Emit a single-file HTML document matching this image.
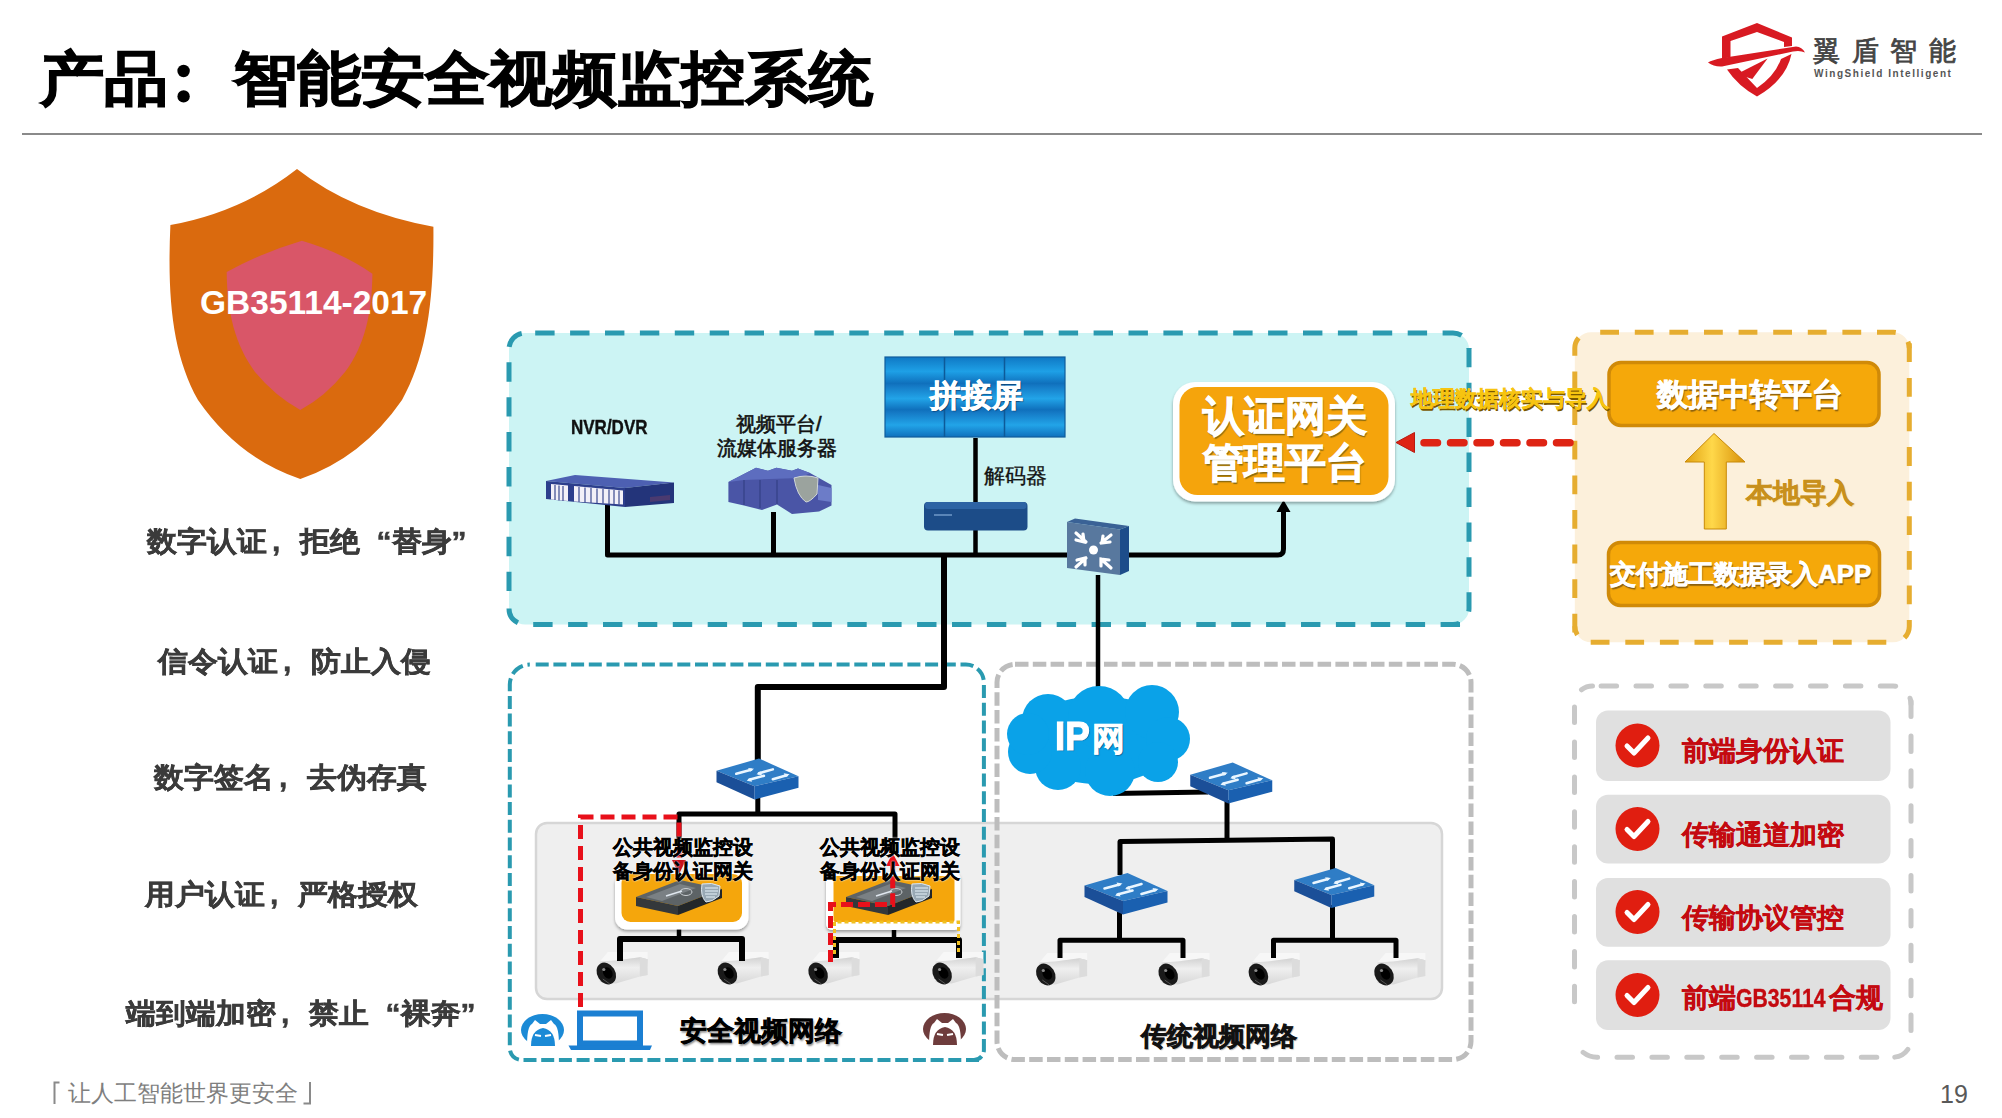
<!DOCTYPE html>
<html><head><meta charset="utf-8">
<style>
html,body{margin:0;padding:0;background:#fff;}
body{width:2002px;height:1118px;position:relative;overflow:hidden;font-family:"Liberation Sans",sans-serif;}
.t{position:absolute;line-height:1;white-space:nowrap;}
.bl{position:absolute;line-height:1;white-space:nowrap;font-size:30px;font-weight:bold;color:#3b3b3b;-webkit-text-stroke:0.5px #3b3b3b;transform:scaleY(0.94);transform-origin:0 0;}
.cm{display:inline-block;width:32.5px;padding-left:5px;box-sizing:border-box;}
.oq{display:inline-block;width:32px;text-align:right;}
.cq{display:inline-block;width:20px;text-align:left;}
#svg{position:absolute;left:0;top:0;}
</style></head><body>
<svg id="svg" width="2002" height="1118" viewBox="0 0 2002 1118">
<defs>
<linearGradient id="wallg" x1="0" y1="0" x2="0" y2="1">
<stop offset="0" stop-color="#0f78c4"/><stop offset="0.18" stop-color="#1ea0e6"/><stop offset="0.33" stop-color="#0f70bc"/>
<stop offset="0.36" stop-color="#1478c4"/><stop offset="0.52" stop-color="#22a4e8"/><stop offset="0.66" stop-color="#0f70bc"/>
<stop offset="0.69" stop-color="#1478c4"/><stop offset="0.85" stop-color="#22a4e8"/><stop offset="1" stop-color="#0f70bc"/>
</linearGradient>
<linearGradient id="arrowg" x1="0" y1="0" x2="1" y2="0">
<stop offset="0" stop-color="#e0a010"/><stop offset="0.45" stop-color="#ffd84a"/><stop offset="1" stop-color="#d89008"/>
</linearGradient>
<linearGradient id="camg" x1="0" y1="0" x2="0" y2="1">
<stop offset="0" stop-color="#d2d2d2"/><stop offset="0.4" stop-color="#efefef"/><stop offset="1" stop-color="#d8d8d8"/>
</linearGradient>
<filter id="sh" x="-20%" y="-20%" width="140%" height="150%"><feDropShadow dx="0" dy="2" stdDeviation="1.5" flood-color="#000" flood-opacity="0.35"/></filter>
<symbol id="sw" viewBox="0 0 83 41.5" overflow="visible">
<polygon points="0,12.5 43,0 83,18 38.5,28" fill="#2f7dc6"/>
<polygon points="0,12.5 38.5,28 38.5,41.5 0,24" fill="#1b4f98"/>
<polygon points="38.5,28 83,18 83,29.5 38.5,41.5" fill="#1a60b0"/>
<g stroke="#eaf6ff" stroke-width="2.6" stroke-linecap="round" fill="none">
<path d="M20,15.5 L35,11.5 M43,15 L57,11 M33,21.5 L48,17.5 M57,21 L71,17"/>
</g>
<g fill="#eaf6ff">
<polygon points="38,10.5 32,9.5 34,13.5"/><polygon points="40.5,16 46,17 44.5,13"/>
<polygon points="30.5,22.5 36,23.5 34.5,19.5"/><polygon points="74,16 68,15 70,19"/>
</g>
</symbol>
<symbol id="cam" viewBox="0 0 53 32" overflow="visible">
<polygon points="13,0 52.8,0 52.8,7.2 45,5.2 21,8.5 5,9.5" fill="#f7f7f7"/>
<polygon points="5,9.5 21,8.5 45,5.2 52.8,7.2 52.8,23 45,24.6 21,31.4 5,30" fill="url(#camg)"/>
<polygon points="45,5.2 52.8,7.2 52.8,23 45,24.6" fill="#dcdcdc"/>
<ellipse cx="11.5" cy="21.5" rx="9" ry="11.5" transform="rotate(-32 11.5 21.5)" fill="#1a1a1a"/>
<ellipse cx="13" cy="21" rx="4.5" ry="6" transform="rotate(-28 13 21)" fill="#000"/>
<circle cx="9" cy="17.5" r="1.6" fill="#8a8a8a"/>
<path d="M8,27 L15,32" stroke="#555" stroke-width="1"/>
</symbol>
<symbol id="gwdev" viewBox="0 0 86 36" overflow="visible">
<polygon points="0,17 44,0 86,9 42,26" fill="#5d6366"/>
<polygon points="0,17 42,26 42,35 0,26" fill="#34383b"/>
<polygon points="42,26 86,9 86,18 42,35" fill="#23272a"/>
<polygon points="10,17 44,4 60,8 26,21" fill="#7a8084"/>
<ellipse cx="50" cy="12" rx="6" ry="3.5" fill="none" stroke="#c8ccd0" stroke-width="1"/>
<path d="M30,16 L46,11" stroke="#dfe6ee" stroke-width="1.5"/>
<path d="M66,4 Q76,2 84,6 L83,16 Q76,22 70,22 Q64,16 66,4 Z" fill="#98a8b4" stroke="#dfe8ef" stroke-width="1"/>
<path d="M69,8 H82 M69,11 H82 M69,14 H81 M70,17 H79" stroke="#e6f2fa" stroke-width="1"/>
</symbol>
</defs>
<!-- header line -->
<path d="M59.5,1082.5 H54.5 V1104 M303.5,1103.5 H310 V1082" stroke="#8a8a8a" stroke-width="2" fill="none"/>
<circle cx="183.6" cy="71" r="6.2" fill="#000"/><circle cx="183.6" cy="96.4" r="6.2" fill="#000"/>
<rect x="22" y="133" width="1960" height="2" fill="#8a8a8a"/>
<!-- left shield -->
<path d="M297,169 Q352,212 433.4,226.7 C434,300 427,355 402,400 Q362,458 300.3,479 Q238,458 198,400 C173,355 167,300 170.4,225 Q242,212 297,169 Z" fill="#da6a0e"/>
<path d="M301.9,240.8 Q343,253 372.4,273.7 C372,312 365,345 345,372 Q326,396 300.3,410 Q275,396 255,372 C235,345 227,312 226.7,272 Q261,253 301.9,240.8 Z" fill="#d95668"/>
<!-- logo -->
<g fill="#d81a22">
<path d="M1722,59 V36.5 L1757,23 L1792,37.5 V46 L1784,47 V42 L1757,32 L1730.5,41 V57 Z"/>
<path d="M1708,62.5 Q1712,60 1722,58 L1796,46.5 Q1802,47 1805,52.5 Q1800,50 1793,51.5 L1722,66.5 Q1714,67 1708,62.5 Z"/>
<path d="M1727,69.5 L1738,68 L1757,88 Q1775,76 1781,59 L1791.5,54 Q1786,80 1757,96.5 Q1738,86 1727,69.5 Z"/>
<path d="M1739,73 L1767.6,58.5 L1752.3,79 L1744.5,76.5 Z"/>
</g>
<!-- BOXES -->
<g id="boxes">
<!-- top cyan box -->
<rect x="509" y="333" width="960" height="291.5" rx="16" fill="#ccf4f4"/>
<g fill="none" stroke="#2a9ab0" stroke-width="5" stroke-dasharray="19.4 15.5">
<path d="M535.2,333 H1453 A16,16 0 0 1 1469,349"/>
<path d="M1469,347.9 V608.5 A16,16 0 0 1 1453,624.5"/>
<path d="M1460,624.5 H525 A16,16 0 0 1 509,608.5"/>
<path d="M509,591.1 V349 A16,16 0 0 1 525,333"/>
</g>
<!-- lower gray bg -->
<rect x="536" y="823" width="906" height="176" rx="11" fill="#efefef" stroke="#d6d6d6" stroke-width="2.5"/>
<!-- lower-left cyan dashed -->
<g fill="none" stroke="#2a9ab0" stroke-width="4" stroke-dasharray="13 4.7">
<path d="M535.7,664.6 H965.9 A18,18 0 0 1 983.9,682.6"/>
<path d="M983.9,685.1 V1050 A10,10 0 0 1 973.9,1060"/>
<path d="M979,1060 H522 A12,12 0 0 1 509.8,1048"/>
<path d="M509.8,1045.2 V684.6 A20,20 0 0 1 529.8,664.6"/>
</g>
<!-- lower gray dashed -->
<rect x="997" y="664.3" width="474" height="395.3" rx="18" fill="none" stroke="#bdbdbd" stroke-width="5" stroke-dasharray="13.5 4.3"/>
<!-- orange dashed -->
<rect x="1574.8" y="332.3" width="334.5" height="309.9" rx="16" fill="#fcf0db"/>
<g fill="none" stroke="#e6ad30" stroke-width="5" stroke-dasharray="18.8 15.8">
<path d="M1600.2,332.3 H1893.3 A16,16 0 0 1 1909.3,348.3"/>
<path d="M1909.3,343.3 V626.2 A16,16 0 0 1 1893.3,642.2"/>
<path d="M1886.3,642.2 H1590.8 A16,16 0 0 1 1574.8,626.2"/>
<path d="M1574.8,632.6 V348.3 A16,16 0 0 1 1590.8,332.3"/>
</g>
<!-- checklist gray dashed -->
<g fill="none" stroke="#c8c8c8" stroke-width="5" stroke-linecap="round" stroke-dasharray="15.5 19.4">
<path d="M1601.1,686 H1893 A18,18 0 0 1 1911,704"/>
<path d="M1911,701 V1039.2 A18,18 0 0 1 1893,1057.2"/>
<path d="M1876.8,1057.2 H1597 A22.5,22.5 0 0 1 1575.2,1040.1"/>
<path d="M1574.5,1001.8 V704 A18,18 0 0 1 1592.5,686"/>
</g>
<!-- checklist items -->
<rect x="1596" y="710.5" width="294.5" height="70.5" rx="12" fill="#e0e0e0"/>
<rect x="1596" y="794.7" width="294.5" height="68.7" rx="12" fill="#e0e0e0"/>
<rect x="1596" y="878" width="294.5" height="68.7" rx="12" fill="#e0e0e0"/>
<rect x="1596" y="960.3" width="294.5" height="69.7" rx="12" fill="#e0e0e0"/>
</g>
<g id="lines" fill="none" stroke="#000" stroke-linejoin="round">
<!-- top network -->
<path d="M607.5,505 V555 H1070" stroke-width="5"/>
<path d="M773.5,512 V555" stroke-width="5"/>
<path d="M975.5,438 V504 M975.5,528 V555" stroke-width="4.5"/>
<path d="M1126,555 H1278 Q1283.5,555 1283.5,549 V510" stroke-width="5"/>
<path d="M1276.5,512 L1283.5,500 L1290.5,512 Z" fill="#000" stroke="none"/>
<path d="M944,555 V687 H757.8 V765" stroke-width="6"/>
<path d="M1098,575 V692" stroke-width="4.5"/>
<!-- lower left -->
<path d="M757.8,795 V814" stroke-width="5"/>
<path d="M679,840 V814 H895 V840" stroke-width="5"/>
<path d="M679,925 V939" stroke-width="4.5"/>

<path d="M894,925 V940" stroke-width="4.5"/>

<!-- traditional -->
<path d="M1113,793.5 L1208,792" stroke-width="5"/>
<path d="M1227,800 V840" stroke-width="5"/>
<path d="M1120,875 V841.5 L1332.5,839 V870" stroke-width="5"/>
<path d="M1119.5,912 V940.3" stroke-width="5"/>
<path d="M1332.5,905 V940.3" stroke-width="5"/>
</g>
<g id="icons">
<!-- NVR -->
<polygon points="546,481 575,475 674,482.5 625,488" fill="#4d60b2"/>
<polygon points="546,481 625,488 625,507 546,499" fill="#2c3e8c"/>
<polygon points="625,488 674,482.5 674,503 625,507" fill="#23347a"/>
<polygon points="551,484 568,485.5 568,501 551,499.5" fill="#f2f0f8"/>
<polygon points="574,486 623,490.5 623,504.5 574,501.5" fill="#f2f0f8"/>
<g stroke="#3a4a90" stroke-width="1.2"><path d="M555,485 V500 M559,485.5 V500.5 M563,486 V501 M579,487 V502 M585,487.5 V502.5 M591,488 V503 M597,488.5 V503 M603,489 V503.5 M609,489.5 V504 M614,490 V504 M619,490.5 V504.5"/></g>
<polygon points="650,497 670,495 670,500 650,502" fill="#4a3a70"/>
<!-- server -->
<polygon points="728.4,482 756,467.8 768,470.8 776.4,467.8 792,470.8 798,468.4 810,473 831.5,485 831.5,505.6 819,511.6 792,514 777,504.4 762,510 744,505.6 728.4,502" fill="#4a55a6"/>
<polygon points="728.4,482 756,467.8 768,470.8 776.4,467.8 792,470.8 798,468.4 810,473 800,478 744,480" fill="#5d6dbf"/>
<path d="M744,480 V505 M760,480 V508 M777,480 V504" stroke="#39448c" stroke-width="1.5"/>
<path d="M794,478 Q806,474 818,478 L817,494 Q810,502 806,502 Q797,496 794,478 Z" fill="#9ba39e" stroke="#d0d6d8" stroke-width="1"/>
<polygon points="818,485 831.5,488 831.5,502 818,500" fill="#6c7cc8"/>
<!-- video wall -->
<rect x="885" y="357" width="180" height="80" fill="url(#wallg)"/>
<rect x="885" y="357" width="180" height="80" fill="none" stroke="#0f5d9c" stroke-width="1.2"/>
<path d="M944.5,357 V437 M1004.5,357 V437" stroke="#0d5a98" stroke-width="1.5"/>
<!-- decoder -->
<rect x="924" y="502" width="103.5" height="28.5" rx="4" fill="#1c4c88"/>
<rect x="925" y="502" width="101.5" height="7" rx="3" fill="#2d63a4"/>
<path d="M934,515 H952" stroke="#6f98c8" stroke-width="1.5"/>
<!-- core switch -->
<polygon points="1067,522 1120,529.5 1120,575 1067,568" fill="#58789e"/>
<polygon points="1067,522 1075,518.5 1129,526 1120,529.5" fill="#3a6296"/>
<polygon points="1120,529.5 1129,526 1129,571 1120,575" fill="#1d4d8a"/>
<g fill="#ffffff">
<circle cx="1093.5" cy="550" r="4.5"/>
</g>
<g stroke="#fff" stroke-width="3.2" fill="none" stroke-linecap="round">
<path d="M1076,533 L1086,542 M1076,540 L1084,542 L1083,534"/>
<path d="M1111,535 L1101,543 M1103,536 L1102,543 L1110,542"/>
<path d="M1076,567 L1086,558 M1077,560 L1085,558 L1085,565"/>
<path d="M1111,568 L1101,559 M1101,566 L1101,559 L1109,560"/>
</g>
<!-- gateway platform -->
<rect x="1173" y="382" width="222" height="119.5" rx="22" fill="#fff" filter="url(#sh)"/>
<rect x="1179.5" y="387" width="209" height="108" rx="18" fill="#f5a40c"/>
<!-- red dashed arrow right -->
<path d="M1570,442.8 H1418" stroke="#de2414" stroke-width="7.5" stroke-linecap="round" stroke-dasharray="13.5 13" fill="none"/>
<polygon points="1396,442.5 1414.5,432.5 1414.5,452.5" fill="#de2414" stroke="#b81a10" stroke-width="1" stroke-linejoin="round"/>
<!-- data platform boxes -->
<rect x="1609" y="362.5" width="270" height="63" rx="12" fill="#f5a80a" stroke="#d08a08" stroke-width="3.5"/>
<rect x="1608.5" y="542.5" width="271" height="63" rx="12" fill="#f5a80a" stroke="#d08a08" stroke-width="3.5"/>
<!-- yellow arrow -->
<polygon points="1714,433.5 1745,462 1726.3,462 1726.3,529 1704.3,529 1704.3,462 1685,462" fill="url(#arrowg)" stroke="#c88a08" stroke-width="1"/>
<!-- check circles -->
<g>
<circle cx="1637.5" cy="745.5" r="22" fill="#e01e10"/>
<circle cx="1637.5" cy="829" r="22" fill="#e01e10"/>
<circle cx="1637.5" cy="912" r="22" fill="#e01e10"/>
<circle cx="1637.5" cy="995" r="22" fill="#e01e10"/>
</g>
<g stroke="#fff" stroke-width="5" fill="none" stroke-linecap="round" stroke-linejoin="round">
<path d="M1627,746 L1634,753 L1648,738"/>
<path d="M1627,829.5 L1634,836.5 L1648,821.5"/>
<path d="M1627,912.5 L1634,919.5 L1648,904.5"/>
<path d="M1627,995.5 L1634,1002.5 L1648,987.5"/>
</g>
<!-- switches -->
<use href="#sw" x="716" y="758.5" width="83" height="41"/>
<use href="#sw" x="1190" y="762.5" width="82.5" height="41"/>
<use href="#sw" x="1084.5" y="873" width="83" height="41.5"/>
<use href="#sw" x="1293" y="868" width="82.5" height="40"/>
<!-- gateways lower-left -->
<rect x="615" y="872" width="133.5" height="57.5" rx="12" fill="#fff" filter="url(#sh)"/>
<rect x="621.5" y="874" width="120.5" height="48" rx="9" fill="#f5a60c"/>
<use href="#gwdev" x="636" y="880" width="86" height="36"/>
<rect x="826" y="872" width="134.5" height="58" rx="6" fill="#fff" filter="url(#sh)"/>
<rect x="833.5" y="876" width="121" height="46" rx="2" fill="#f5a60c"/>
<use href="#gwdev" x="846" y="880" width="86" height="36"/>
<!-- cameras -->
<use href="#cam" x="594.8" y="952" width="53" height="32"/>
<use href="#cam" x="715.9" y="952" width="53" height="32"/>
<use href="#cam" x="806.6" y="952" width="53" height="32"/>
<use href="#cam" x="930.6" y="952" width="53" height="32"/>
<use href="#cam" x="1034.3" y="953" width="53" height="32"/>
<use href="#cam" x="1156.7" y="953" width="53" height="32"/>
<use href="#cam" x="1246.9" y="953" width="53" height="32"/>
<use href="#cam" x="1372.5" y="953" width="53" height="32"/>
<g fill="none" stroke="#000" stroke-linejoin="round">
<path d="M620,961 V939 H742 V961" stroke-width="6"/>
<path d="M836,958 V940 H959 V958" stroke-width="6"/>
<path d="M1060,958 V940.3 H1183 V958" stroke-width="5"/>
<path d="M1273.5,958 V940.3 H1396 V958" stroke-width="5"/>
</g>
<!-- cloud -->
<g fill="#0aa2e8">
<ellipse cx="1099" cy="740" rx="76" ry="44"/>
<circle cx="1048" cy="720" r="26"/>
<circle cx="1099" cy="717" r="31"/>
<circle cx="1152" cy="712" r="27"/>
<circle cx="1168" cy="739" r="22"/>
<circle cx="1158" cy="762" r="20"/>
<circle cx="1110" cy="771" r="25"/>
<circle cx="1058" cy="767" r="23"/>
<circle cx="1030" cy="752" r="22"/>
<circle cx="1028" cy="734" r="21"/>
</g>
<!-- red dashed path lower-left -->
<path d="M580.5,1007 V817 H679 V862" stroke="#e8101a" stroke-width="5" stroke-dasharray="14 7" fill="none"/>
<polygon points="672,860 686,860 679,874" fill="#c8101a"/>
<!-- red path gateway 2 -->
<path d="M830.5,962 V904.5 H892.7 V864" stroke="#e8101a" stroke-width="5" stroke-dasharray="12 5" fill="none"/>
<polygon points="886,866 899.5,866 892.7,853" fill="#e8101a"/>
<path d="M834.5,954 V922 H958.5 V954" stroke="#f0c020" stroke-width="3" stroke-dasharray="4 3" fill="none"/>
<!-- laptop -->
<rect x="580" y="1013.5" width="60" height="30" fill="none" stroke="#1b7fd2" stroke-width="6"/>
<path d="M568.5,1045.5 H652 L650,1050 H571 Z" fill="#1b7fd2"/>
<!-- hacker blue -->
<ellipse cx="542.5" cy="1030" rx="21.5" ry="16" fill="#1b8ad6"/>
<path d="M527,1046 Q527,1026 532,1024 L535,1020 L540,1024 H546 L551,1020 L554,1024 Q559,1026 559,1046 Z" fill="#fff"/>
<path d="M531,1046 Q531,1030 543,1028 Q555,1030 555,1046 Z" fill="#1b8ad6"/>
<path d="M535,1035 L541,1036 M545,1036 L551,1035" stroke="#fff" stroke-width="2"/>
<!-- hacker dark -->
<ellipse cx="944.5" cy="1029" rx="21.5" ry="16" fill="#6e3c3c"/>
<path d="M929,1045 Q929,1025 934,1023 L937,1019 L942,1023 H948 L953,1019 L956,1023 Q961,1025 961,1045 Z" fill="#fff"/>
<path d="M933,1045 Q933,1029 945,1027 Q957,1029 957,1045 Z" fill="#6e3c3c"/>
<path d="M937,1034 L943,1035 M947,1035 L953,1034" stroke="#fff" stroke-width="2"/>
</g>
</svg>


<!-- DIAGRAM TEXTS -->
<div class="t" style="left:571px;top:417px;font-size:20px;font-weight:bold;color:#111;-webkit-text-stroke:0.4px #111;transform:scaleX(0.85);transform-origin:0 0;">NVR/DVR</div>
<div class="t" style="left:736px;top:414px;font-size:20px;color:#111;-webkit-text-stroke:0.6px #111;">视频平台/</div>
<div class="t" style="left:717px;top:439px;font-size:19.5px;color:#111;-webkit-text-stroke:0.6px #111;">流媒体服务器</div>
<div class="t" style="left:930px;top:380px;font-size:31px;font-weight:bold;color:#fff;-webkit-text-stroke:0.7px #fff;text-shadow:1px 1px 1px #0b3f70;">拼接屏</div>
<div class="t" style="left:984px;top:465px;font-size:21px;color:#111;-webkit-text-stroke:0.3px #111;">解码器</div>
<div class="t" style="left:1203px;top:393px;font-size:41px;font-weight:bold;color:#fff;-webkit-text-stroke:1px #fff;text-shadow:1px 1.5px 1px #8a6a10;line-height:47px;">认证网关<br>管理平台</div>
<div class="t" style="left:1411px;top:389px;font-size:21.5px;font-weight:bold;color:#f7c410;-webkit-text-stroke:0.3px #f7c410;text-shadow:1px 1.5px 0 #7a5800;">地理数据核实与导入</div>
<div class="t" style="left:1657px;top:379px;font-size:31px;font-weight:bold;color:#fff;-webkit-text-stroke:0.7px #fff;text-shadow:1px 1.5px 1px #8a6010;">数据中转平台</div>
<div class="t" style="left:1746px;top:480px;font-size:26.5px;font-weight:bold;color:#c8901c;-webkit-text-stroke:0.5px #c8901c;text-shadow:1px 1px 1px #f8e0a0;">本地导入</div>
<div class="t" style="left:1610px;top:561px;font-size:26px;font-weight:bold;color:#fff;-webkit-text-stroke:0.6px #fff;text-shadow:1px 1.5px 1px #8a6010;">交付施工数据录入APP</div>
<div class="t" style="left:613px;top:835px;font-size:20px;font-weight:bold;color:#000;line-height:24px;-webkit-text-stroke:0.5px #000;text-shadow:0 0 2px #fff,0 0 2px #fff;">公共视频监控设<br>备身份认证网关</div>
<div class="t" style="left:820px;top:835px;font-size:20px;font-weight:bold;color:#000;line-height:24px;-webkit-text-stroke:0.5px #000;text-shadow:0 0 2px #fff,0 0 2px #fff;">公共视频监控设<br>备身份认证网关</div>
<div class="t" style="left:1055px;top:720px;font-size:33px;font-weight:bold;color:#fff;-webkit-text-stroke:0.6px #fff;text-shadow:1px 1px 1px #0a5a90;"><span style="display:inline-block;width:37px;"><span style="display:inline-block;font-size:41px;transform:scaleX(0.9);-webkit-text-stroke:1.2px #fff;transform-origin:0 0;margin-top:-4px;">IP</span></span>网</div>
<div class="t" style="left:680px;top:1018px;font-size:26.5px;font-weight:bold;color:#000;-webkit-text-stroke:0.6px #000;text-shadow:1px 2px 2px #888;">安全视频网络</div>
<div class="t" style="left:1141px;top:1023px;font-size:26px;font-weight:bold;color:#111;-webkit-text-stroke:0.6px #111;text-shadow:1px 1px 1px #aaa;">传统视频网络</div>
<div class="t" style="left:1682px;top:738px;font-size:26.5px;font-weight:bold;color:#c40a10;-webkit-text-stroke:0.4px #c40a10;">前端身份认证</div>
<div class="t" style="left:1682px;top:822px;font-size:26.5px;font-weight:bold;color:#c40a10;-webkit-text-stroke:0.4px #c40a10;">传输通道加密</div>
<div class="t" style="left:1682px;top:905px;font-size:26.5px;font-weight:bold;color:#c40a10;-webkit-text-stroke:0.4px #c40a10;">传输协议管控</div>
<div class="t" style="left:1682px;top:985px;font-size:26.5px;font-weight:bold;color:#c40a10;-webkit-text-stroke:0.4px #c40a10;">前端<span style="display:inline-block;width:93px;"><span style="display:inline-block;transform:scaleX(0.8);transform-origin:0 0;">GB35114</span></span>合规</div>

<!-- TEXTS -->
<div class="t" style="left:200px;top:285.5px;font-size:33.5px;font-weight:bold;color:#fff;">GB35114-2017</div>
<div class="t" style="left:1813px;top:38px;font-size:27px;color:#444;letter-spacing:11.5px;-webkit-text-stroke:0.8px #444;">翼盾智能</div>
<div class="t" style="left:1814px;top:69px;font-size:10px;font-weight:bold;color:#555;letter-spacing:1.55px;">WingShield Intelligent</div>

<div class="t" style="left:40px;top:49px;font-size:64px;font-weight:bold;color:#000;-webkit-text-stroke:1.2px #000;transform:scaleY(0.92);transform-origin:0 0;">产品</div>
<div class="t" style="left:233px;top:49px;font-size:64px;font-weight:bold;color:#000;-webkit-text-stroke:1.2px #000;transform:scaleY(0.92);transform-origin:0 0;">智能安全视频监控系统</div>

<div class="bl" style="left:147px;top:527px;">数字认证<span class="cm">,</span>拒绝<span class="oq">“</span>替身<span class="cq">”</span></div>
<div class="bl" style="left:158px;top:647px;">信令认证<span class="cm">,</span>防止入侵</div>
<div class="bl" style="left:154px;top:763px;">数字签名<span class="cm">,</span>去伪存真</div>
<div class="bl" style="left:145px;top:880px;">用户认证<span class="cm">,</span>严格授权</div>
<div class="bl" style="left:126px;top:999px;">端到端加密<span class="cm">,</span>禁止<span class="oq">“</span>裸奔<span class="cq">”</span></div>

<div class="t" style="left:67.5px;top:1082px;font-size:23px;color:#7f7f7f;">让人工智能世界更安全</div>
<div class="t" style="left:1940px;top:1082px;font-size:25px;color:#595959;">19</div>

</body></html>
